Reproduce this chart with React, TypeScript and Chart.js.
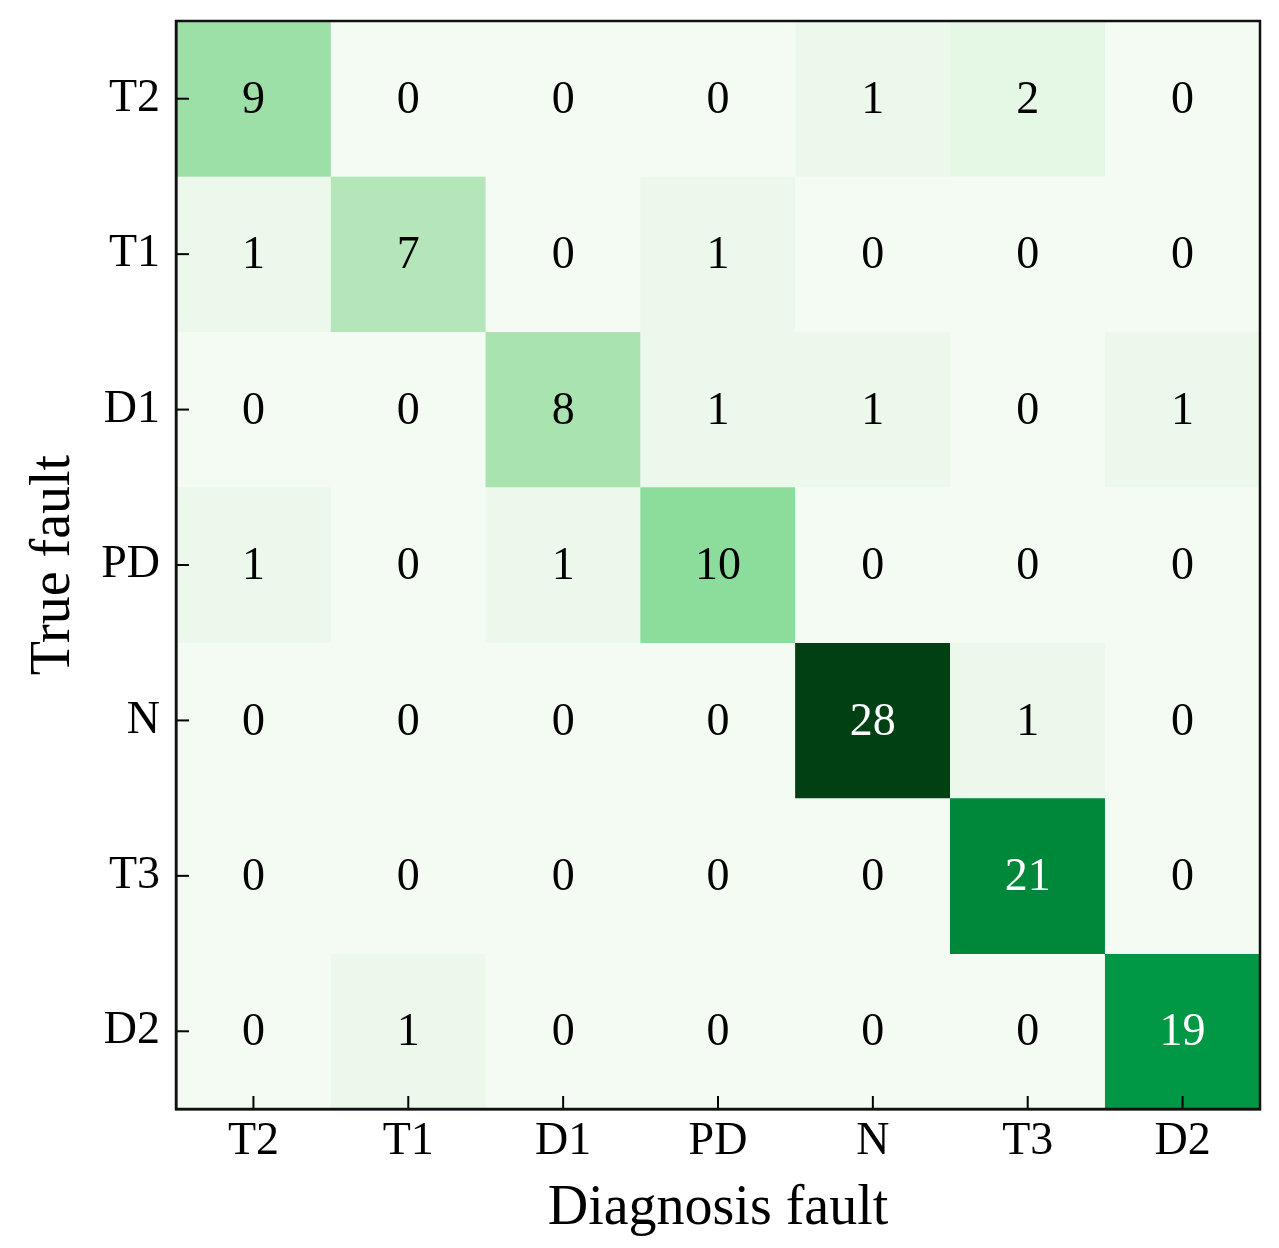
import React, { useEffect, useRef } from "react";
import { Chart, registerables } from "chart.js";

Chart.register(...registerables);

const PRED_LABELS = ["T2", "T1", "D1", "PD", "N", "T3", "D2"];
const TRUE_LABELS = ["T2", "T1", "D1", "PD", "N", "T3", "D2"];

const ROW_T2 = [9, 0, 0, 0, 1, 2, 0];
const ROW_T1 = [1, 7, 0, 1, 0, 0, 0];
const ROW_D1 = [0, 0, 8, 1, 1, 0, 1];
const ROW_PD = [1, 0, 1, 10, 0, 0, 0];
const ROW_N = [0, 0, 0, 0, 28, 1, 0];
const ROW_T3 = [0, 0, 0, 0, 0, 21, 0];
const ROW_D2 = [0, 1, 0, 0, 0, 0, 19];

const MATRIX = [ROW_T2, ROW_T1, ROW_D1, ROW_PD, ROW_N, ROW_T3, ROW_D2];

const X_TITLE = "Diagnosis fault";
const Y_TITLE = "True fault";

// colormap stops (fraction of max, rgb)
const CMAP: [number, number[]][] = [
  [0, [244, 251, 243]],
  [0.0357, [237, 248, 236]],
  [0.0714, [229, 247, 229]],
  [0.25, [181, 230, 186]],
  [0.2857, [168, 227, 176]],
  [0.3214, [156, 224, 168]],
  [0.357, [140, 221, 156]],
  [0.5, [80, 192, 112]],
  [0.6786, [0, 152, 69]],
  [0.75, [0, 136, 58]],
  [1, [0, 64, 18]],
];

const MAX_VAL = Math.max(...MATRIX.flat());

function colorFor(v: number): string {
  const t = v / MAX_VAL;
  for (let i = 0; i < CMAP.length - 1; i++) {
    const [t0, c0] = CMAP[i];
    const [t1, c1] = CMAP[i + 1];
    if (t >= t0 && t <= t1) {
      const f = t1 === t0 ? 0 : (t - t0) / (t1 - t0);
      const c = c0.map((a, k) => Math.round(a + (c1[k] - a) * f));
      return `rgb(${c[0]},${c[1]},${c[2]})`;
    }
  }
  const c = CMAP[CMAP.length - 1][1];
  return `rgb(${c[0]},${c[1]},${c[2]})`;
}

const FONT = "'Liberation Serif', 'Times New Roman', serif";
const TICK_LEN = 13;

export default function App() {
  const ref = useRef<HTMLCanvasElement | null>(null);

  useEffect(() => {
    document.body.style.margin = "0";
    const canvas = ref.current!;
    const frame = {
      id: "frame",
      afterDraw(chart: any) {
        const { ctx, chartArea } = chart;
        ctx.save();
        // inward tick marks
        ctx.strokeStyle = "#000";
        ctx.lineWidth = 2;
        const xs = chart.scales.x;
        xs.ticks.forEach((_: any, i: number) => {
          const px = xs.getPixelForTick(i);
          ctx.beginPath();
          ctx.moveTo(px, chartArea.bottom);
          ctx.lineTo(px, chartArea.bottom - TICK_LEN);
          ctx.stroke();
        });
        const ys = chart.scales.y;
        ys.ticks.forEach((_: any, i: number) => {
          const py = ys.getPixelForTick(i);
          ctx.beginPath();
          ctx.moveTo(chartArea.left, py);
          ctx.lineTo(chartArea.left + TICK_LEN, py);
          ctx.stroke();
        });
        ctx.strokeStyle = "#111";
        ctx.lineWidth = 2.5;
        ctx.strokeRect(
          chartArea.left,
          chartArea.top,
          chartArea.right - chartArea.left,
          chartArea.bottom - chartArea.top
        );
        ctx.restore();
      },
    };
    const labels = {
      id: "cellLabels",
      afterDatasetsDraw(chart: any) {
        const { ctx } = chart;
        ctx.save();
        ctx.font = `46px ${FONT}`;
        ctx.textAlign = "center";
        ctx.textBaseline = "middle";
        chart.data.datasets.forEach((ds: any, i: number) => {
          const meta = chart.getDatasetMeta(i);
          meta.data.forEach((el: any, j: number) => {
            const v = MATRIX[i][j];
            const p = el.getCenterPoint();
            ctx.fillStyle = v > MAX_VAL / 2 ? "#ffffff" : "#000000";
            ctx.fillText(String(v), p.x, p.y + 2);
          });
        });
        ctx.restore();
      },
    };

    const chart = new Chart(canvas, {
      type: "bar",
      data: {
        labels: PRED_LABELS,
        datasets: MATRIX.map((row, r) => ({
          label: TRUE_LABELS[r],
          data: row.map(() => [r - 0.5, r + 0.5]),
          backgroundColor: row.map((v) => colorFor(v)),
          borderColor: row.map((v) => colorFor(v)),
          borderWidth: 0.5,
          borderSkipped: false,
          grouped: false,
          barPercentage: 1,
          categoryPercentage: 1,
        })) as any,
      },
      options: {
        animation: false,
        responsive: false,
        maintainAspectRatio: false,
        layout: { padding: { top: 21, right: 19, left: 0, bottom: 0 } },
        plugins: {
          legend: { display: false },
          tooltip: { enabled: false },
        },
        scales: {
          x: {
            type: "category",
            offset: true,
            grid: {
              offset: false,
              drawOnChartArea: false,
              drawTicks: true,
              tickLength: -13,
              tickWidth: 0,
              tickColor: "rgba(0,0,0,0)",
            },
            border: { display: true, color: "#000", width: 2.5, z: 2 },
            ticks: {
              color: "#000",
              font: { family: FONT, size: 46 },
              padding: 18,
              maxRotation: 0,
            },
            title: {
              display: true,
              text: X_TITLE,
              color: "#000",
              font: { family: FONT, size: 56 },
              padding: { top: 0, bottom: 5 },
            },
            afterFit(scale: any) {
              scale.height = 139;
              scale.paddingLeft = 0;
              scale.paddingRight = 0;
            },
          },
          y: {
            type: "linear",
            min: -0.5,
            max: 6.5,
            reverse: true,
            afterBuildTicks(scale: any) {
              scale.ticks = TRUE_LABELS.map((_, i) => ({ value: i }));
            },
            grid: {
              drawOnChartArea: false,
              drawTicks: true,
              tickLength: -13,
              tickWidth: 0,
              tickColor: "rgba(0,0,0,0)",
            },
            border: { display: true, color: "#000", width: 2.5, z: 2 },
            ticks: {
              color: "#000",
              font: { family: FONT, size: 46 },
              padding: 29,
              callback: (v: any) => TRUE_LABELS[Number(v)] ?? "",
            },
            title: {
              display: true,
              text: Y_TITLE,
              color: "#000",
              font: { family: FONT, size: 56 },
              padding: { top: 21, bottom: 0 },
            },
            afterFit(scale: any) {
              scale.width = 176;
              scale.paddingTop = 0;
              scale.paddingBottom = 0;
            },
          },
        },
      },
      plugins: [labels, frame],
    });
    return () => chart.destroy();
  }, []);

  return (
    <div style={{ position: "absolute", left: 0, top: 0, width: 1279, height: 1248, background: "#fff" }}>
      <canvas ref={ref} width={1279} height={1248} style={{ width: 1279, height: 1248 }} />
    </div>
  );
}
